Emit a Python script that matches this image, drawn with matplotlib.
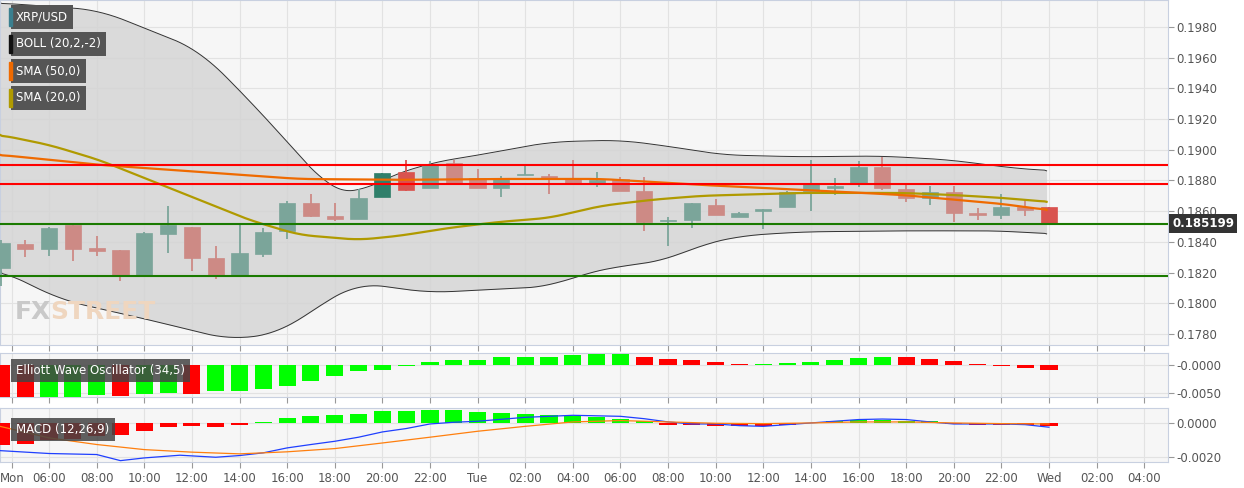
import matplotlib
matplotlib.use("Agg")
import matplotlib.pyplot as plt
import numpy as np

# ---- data ----
hours = list(range(4, 49))
opens  = [0.1823,0.18385,0.18353,0.1851,0.18359,0.18348,0.18181,0.1845,0.1850,0.18294,0.1818,0.1832,0.18472,0.18656,0.18569,
          0.18552,0.18691,0.18854,0.1875,0.18914,0.18814,0.18749,0.18834,0.18829,0.18814,0.18777,0.1881,0.18734,0.18535,0.18544,
          0.18639,0.18563,0.18598,0.18626,0.18729,0.18752,0.18777,0.18887,0.18743,0.18689,0.18722,0.18585,0.18576,0.18628,0.1863]
closes = [0.18391,0.18353,0.18493,0.18353,0.18343,0.18181,0.18457,0.1851,0.18294,0.1818,0.18326,0.18463,0.18652,0.18569,0.18552,
          0.18689,0.18848,0.18739,0.1890,0.18784,0.18749,0.18814,0.18845,0.18818,0.18777,0.18803,0.18734,0.18528,0.18541,0.18651,
          0.18574,0.18591,0.18615,0.18724,0.1878,0.18763,0.18887,0.18753,0.18689,0.18722,0.18585,0.18578,0.18624,0.18606,0.1852]
highs  = [0.1841,0.18413,0.1850,0.1851,0.18439,0.18348,0.18465,0.18635,0.1850,0.18374,0.1851,0.18489,0.18667,0.18713,0.18656,
          0.18746,0.1885,0.18935,0.1893,0.18934,0.18876,0.1883,0.18898,0.1884,0.18934,0.18856,0.1882,0.18821,0.18563,0.18651,
          0.1868,0.18595,0.18615,0.1873,0.18934,0.18815,0.1893,0.18953,0.18782,0.18766,0.18766,0.1862,0.18713,0.1868,0.1863]
lows   = [0.1811,0.1830,0.1831,0.18278,0.18311,0.18142,0.1818,0.1833,0.18207,0.18157,0.1818,0.1830,0.18421,0.1856,0.18539,
          0.18552,0.18691,0.1873,0.1875,0.18784,0.18749,0.1869,0.18834,0.1871,0.18777,0.1876,0.18734,0.18474,0.1837,0.1849,
          0.18574,0.18563,0.18482,0.18626,0.1860,0.18704,0.1876,0.18741,0.1866,0.1864,0.1853,0.1854,0.1855,0.1857,0.1852]
highlight = [16, 17, 44]

band_hours = [3.94,8.1,12.3,14.4,16.5,17.8,18.9,19.9,22,24.1,27,30,32.5,34.2,37.6,40.9,43.9,46,47.9]
boll_upper = [0.19957,0.19911,0.19651,0.19325,0.18967,0.18739,0.1870,0.18804,0.18915,0.18967,0.19051,0.19064,0.19012,0.18967,
              0.18954,0.1896,0.18934,0.18889,0.18863]
low_hours = [3.94,6.5,10.2,13.6,15.7,17.4,19,22,24.1,27,28.3,30,31.7,33.4,35,37.6,41.8,46,47.9]
boll_lower = [0.18218,0.18022,0.17892,0.17762,0.17807,0.1799,0.18133,0.18068,0.18087,0.18107,0.18185,0.18244,0.1827,0.1838,
              0.18439,0.18465,0.18472,0.18472,0.18452]
sma50_hours = [3.94,8.1,12.3,16.5,20.7,24.9,29.2,33.4,37.6,41.8,46,47.9]
sma50 = [0.18967,0.18902,0.18856,0.1881,0.18804,0.1881,0.1881,0.18771,0.18739,0.18706,0.18648,0.18608]
sma20_hours = [3.94,6.0,8.1,10.2,12.3,14.4,16.5,19,20.7,22.8,24.9,27,29.2,31.3,33.4,37.6,41.8,43.9,46,47.9]
sma20 = [0.19097,0.19032,0.18934,0.18804,0.18674,0.18543,0.18446,0.18413,0.18439,0.18491,0.1853,0.18556,0.18635,0.18674,
         0.187,0.18719,0.18719,0.18706,0.18687,0.18661]
resistance = [0.18902, 0.18778]
support = [0.18517, 0.1818]
last_price = 0.185199

ewo = [-0.00572,-0.0059,-0.00572,-0.00572,-0.0053,-0.00554,-0.00524,-0.0050,-0.00518,-0.0047,-0.00464,-0.00428,-0.00373,-0.00283,
       -0.00205,-0.00114,-0.00084,-0.00012,0.00054,0.0009,0.00096,0.00139,0.00139,0.0015,0.0018,0.0019,0.0020,0.00145,0.00114,
       0.00096,0.00054,0.0001,0.00011,0.00036,0.00054,0.00084,0.00127,0.00145,0.00139,0.00114,0.00078,0.0001,-0.00024,-0.00048,-0.00096]
macd_hist = [-0.00127,-0.00122,-0.00098,-0.00092,-0.00078,-0.00073,-0.00045,-0.00025,-0.0002,-0.00024,-0.00012,0.00004,0.00029,
             0.00039,0.00045,0.00055,0.00073,0.00073,0.00078,0.00075,0.00065,0.00061,0.00055,0.00049,0.00041,0.00037,0.00025,
             0.0001,-0.0001,-0.0001,-0.00016,-0.0002,-0.0002,-0.0001,-0.00002,0.0001,0.0002,0.00016,0.0001,0.0001,-0.00006,
             -0.0001,-0.00014,-0.00014,-0.00018]
macd_hours = [3.94,6,8,9,10,11.5,13,14,15,16,17,18,19,20,21,22,23,24,26,28,30,31,32,33,34,35,36,37,38,39,40,41,42,43,44,45,46,47,48]
macd_line = [-0.00163,-0.0018,-0.00186,-0.00222,-0.00206,-0.0019,-0.00202,-0.00192,-0.00176,-0.00147,-0.00127,-0.00108,-0.00084,
             -0.00053,-0.00033,-0.00006,0.00004,0.0001,0.00033,0.00045,0.00039,0.00025,0.00006,-0.00006,-0.00006,-0.00016,-0.0002,
             -0.0001,0.0,0.0001,0.0002,0.00023,0.0002,0.00006,-0.00006,-0.00006,-0.00006,-0.0001,-0.00025]
sig_hours = [3.94,6,8,10,12,14,16,18,20,22,24,26,28,30,32,34,36,38,40,42,44,46,48]
signal = [-0.0002,-0.00088,-0.00127,-0.00157,-0.00172,-0.00182,-0.0017,-0.00151,-0.00118,-0.00084,-0.00049,-0.0002,0.00006,
          0.00014,0.00006,-0.00002,-0.00004,0.0,0.00006,0.00006,0.0,-0.00004,-0.00006]

tick_pos = [4.45,6,8,10,12,14,16,18,20,22,24,26,28,30,32,34,36,38,40,42,44,46,48,50,52]
tick_lab = ["Mon","06:00","08:00","10:00","12:00","14:00","16:00","18:00","20:00","22:00","Tue","02:00","04:00","06:00",
            "08:00","10:00","12:00","14:00","16:00","18:00","20:00","22:00","Wed","02:00","04:00"]
price_ticks = [0.178,0.180,0.182,0.184,0.186,0.188,0.190,0.192,0.194,0.196,0.198]

# ---- figure ----
W, H = 1244, 488
fig = plt.figure(figsize=(W/100, H/100), dpi=100)
fig.patch.set_facecolor("white")
def ax_px(x0, y0, x1, y1):
    return fig.add_axes([x0/W, 1-y1/H, (x1-x0)/W, (y1-y0)/H])

def smooth_curve(xs, ys, n=500, k=25):
    g = np.linspace(xs[0], xs[-1], n)
    v = np.interp(g, xs, ys)
    pad = np.concatenate([np.full(k, v[0]), v, np.full(k, v[-1])])
    ker = np.ones(k) / k
    s = np.convolve(pad, ker, mode="same")[k:-k]
    s[0], s[-1] = v[0], v[-1]
    return g, s

XL = (3.94, 53.0)
ax = ax_px(0, 0, 1168, 345)
ax1 = ax_px(0, 353, 1168, 397)
ax2 = ax_px(0, 408, 1168, 462)
for a in (ax, ax1, ax2):
    a.set_facecolor("#f6f6f6")
    a.set_xlim(*XL)
    a.yaxis.tick_right()
    for s in a.spines.values():
        s.set_color("#c8d0e0")
    a.tick_params(axis="y", length=4, color="#999", labelsize=8.5, labelcolor="#555", pad=2)
    a.tick_params(axis="x", length=4, color="#999")
    a.set_xticks(tick_pos)
    a.grid(True, color="#e2e2e2", lw=0.8)
    a.set_axisbelow(True)

ax.set_ylim(0.17728, 0.19976)
ax.set_yticks(price_ticks)
ax.set_yticklabels([f"{v:.4f}" for v in price_ticks])
ax.set_xticklabels([])
ax1.set_xticklabels([])
ax2.set_xticklabels(tick_lab, fontsize=8.5, color="#555")

# Bollinger band fill
gu, up_s = smooth_curve(band_hours, boll_upper)
gl, lo_s = smooth_curve(low_hours, boll_lower)
ax.fill_between(gu, lo_s, up_s, color="#d3d3d3", alpha=0.8, lw=0, zorder=1)
ax.plot(gu, up_s, color="#333", lw=0.7, zorder=2)
ax.plot(gl, lo_s, color="#333", lw=0.7, zorder=2)

# candles
for i, h in enumerate(hours):
    o, c, hi, lo = opens[i], closes[i], highs[i], lows[i]
    up = c >= o
    if i in highlight:
        col = "#2f7f6a" if up else "#d9534f"
    else:
        col = "#7ba59a" if up else "#cd8a85"
    ax.vlines(h, lo, hi, color=col, lw=1.3, zorder=3)
    ax.bar(h, max(abs(c-o), 0.00004), bottom=min(o, c), width=0.68, color=col, edgecolor=col, lw=0.5, zorder=4)

g20, s20 = smooth_curve(sma20_hours, sma20, k=15)
g50, s50 = smooth_curve(sma50_hours, sma50, k=15)
ax.plot(g20, s20, color="#b09a00", lw=1.6, zorder=5)
ax.plot(g50, s50, color="#ef6a00", lw=1.6, zorder=5)
for r in resistance:
    ax.axhline(r, color="#ff0000", lw=1.5, zorder=6)
for s in support:
    ax.axhline(s, color="#1a7a00", lw=1.5, zorder=6)

ax.text(1.0035, last_price, f"{last_price:.6f}", transform=ax.get_yaxis_transform(), fontsize=8.5, color="white",
        va="center", ha="left", fontweight="bold",
        bbox=dict(boxstyle="square,pad=0.25", fc="#333", ec="none"), clip_on=False)

# legend boxes
labels = [("XRP/USD", "#3a7f8f"), ("BOLL (20,2,-2)", "#111"), ("SMA (50,0)", "#ef6a00"), ("SMA (20,0)", "#b09a00")]
for k, (t, c) in enumerate(labels):
    y = (17 + 27*k) / 345
    ax.text(16/1168, 1-y, t, transform=ax.transAxes, fontsize=8.5, color="white", va="center", ha="left",
            bbox=dict(boxstyle="square,pad=0.45", fc="#555", ec="none"), zorder=10)
    ax.add_patch(plt.Rectangle((9/1168, 1-y-9/345), 3/1168, 18/345, transform=ax.transAxes, color=c, zorder=11))

fig.text(15/W, 1-312/H, "FX", fontsize=18, color="#c9c9c9", fontweight="bold", va="center")
fig.text(50/W, 1-312/H, "STREET", fontsize=18, color="#efd6bf", fontweight="bold", va="center")

# EWO
ax1.set_ylim(-0.00571, 0.00214)
ax1.set_yticks([0.0, -0.005])
ax1.set_yticklabels(["-0.0000", "-0.0050"])
ecols = ["#ff0000"] + ["#00ff00" if ewo[i] >= ewo[i-1] else "#ff0000" for i in range(1, len(ewo))]
ax1.bar(hours, ewo, width=0.72, color=ecols, zorder=3)
ax1.text(16/1168, 0.6, "Elliott Wave Oscillator (34,5)", transform=ax1.transAxes, fontsize=8.5, color="white",
         va="center", bbox=dict(boxstyle="square,pad=0.45", fc="#444", ec="none", alpha=0.85), zorder=10)

# MACD
ax2.set_ylim(-0.0023, 0.00088)
ax2.set_yticks([0.0, -0.002])
ax2.set_yticklabels(["0.0000", "-0.0020"])
mcols = ["#00ff00" if v >= 0 else "#ff0000" for v in macd_hist]
ax2.bar(hours, macd_hist, width=0.72, color=mcols, zorder=3)
ax2.plot(macd_hours, macd_line, color="#1f3fff", lw=0.9, zorder=4)
ax2.plot(sig_hours, signal, color="#ff7f0e", lw=0.9, zorder=4)
ax2.text(16/1168, 0.6, "MACD (12,26,9)", transform=ax2.transAxes, fontsize=8.5, color="white",
         va="center", bbox=dict(boxstyle="square,pad=0.45", fc="#444", ec="none", alpha=0.85), zorder=10)

fig.savefig("out.png", dpi=100)
